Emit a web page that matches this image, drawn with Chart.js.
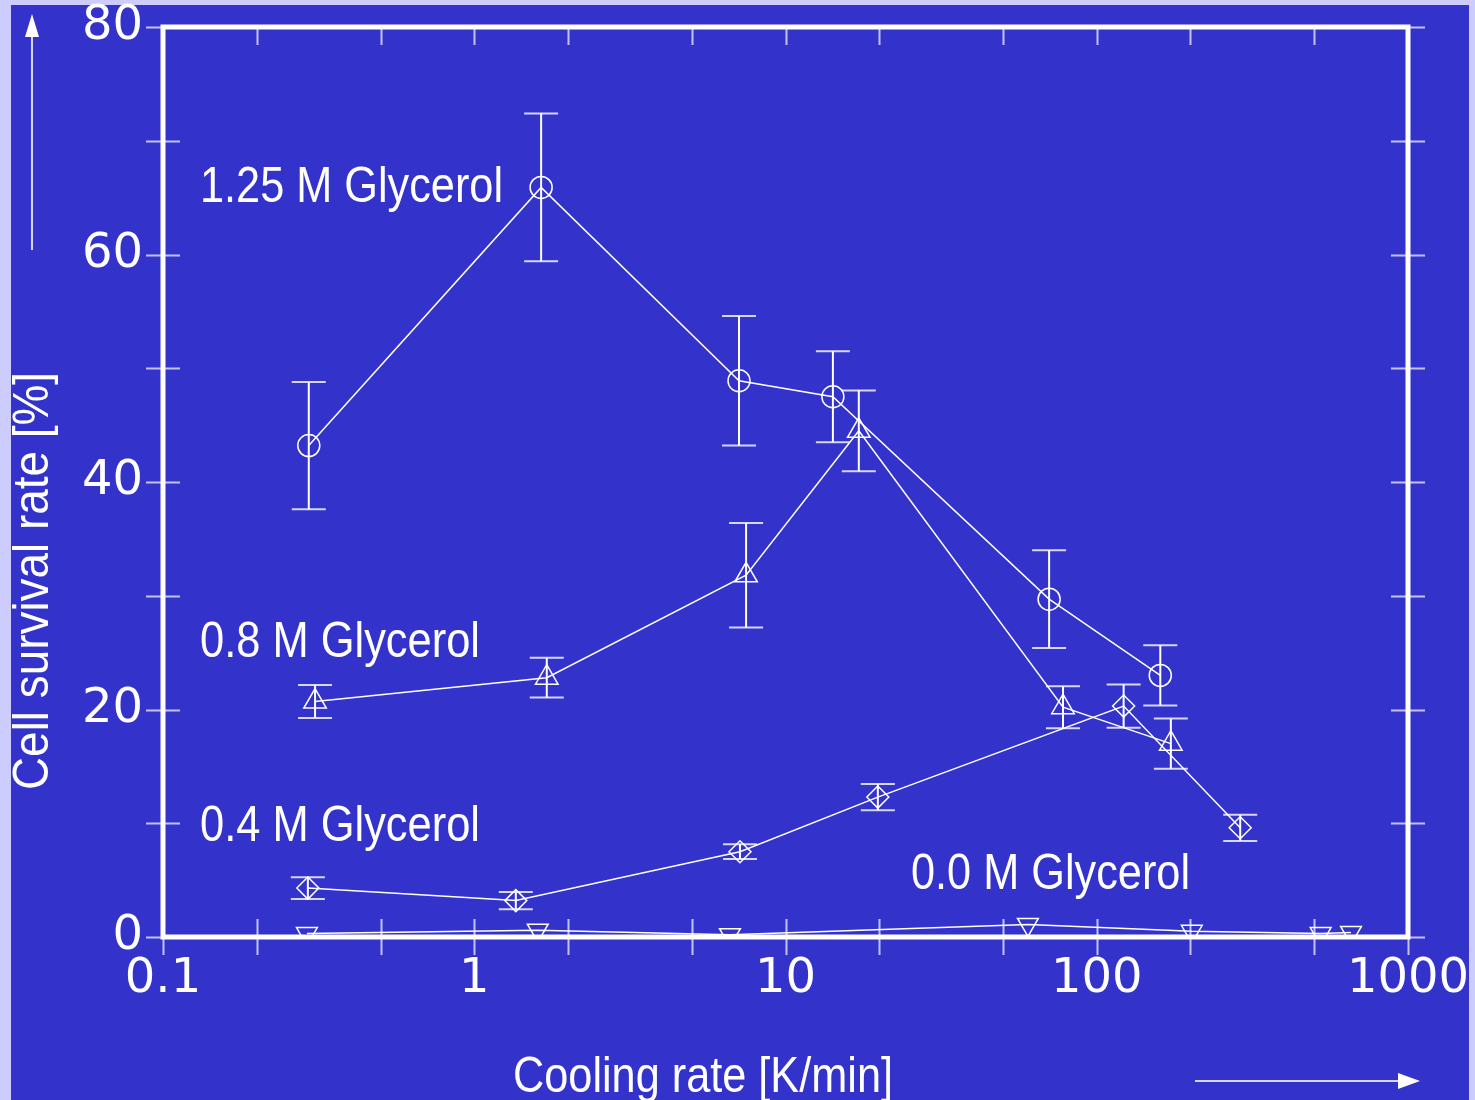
<!DOCTYPE html>
<html>
<head>
<meta charset="utf-8">
<script src="https://cdn.jsdelivr.net/npm/chart.js"></script>
<style>
  html, body { margin: 0; padding: 0; background: #ccccff; }
  canvas { display: block; }
</style>
</head>
<body>
<canvas id="chartSurvival" width="1475" height="1100"></canvas>
<script>
// tick values
const xTickValues = [0.1, 1, 10, 100, 1000];
const xMinorTicks = [0.2, 0.5, 2, 5, 20, 50, 200, 500];
const yTickValues = [0, 20, 40, 60, 80];
const yMinorTicks = [10, 30, 50, 70];

// 1.25 M glycerol
const rate125 = [0.294, 1.64, 7.09, 14.2, 70.3, 160];
const surv125 = [43.2, 65.9, 48.9, 47.5, 29.7, 23.0];
const err125 = [5.6, 6.5, 5.7, 4.0, 4.3, 2.65];

// 0.8 M glycerol
const rate08 = [0.308, 1.71, 7.47, 17.2, 77.9, 173];
const surv08 = [20.7, 22.8, 31.8, 44.5, 20.2, 17.0];
const err08 = [1.45, 1.75, 4.6, 3.55, 1.85, 2.2];

// 0.4 M glycerol
const rate04 = [0.292, 1.36, 7.14, 19.8, 122, 289];
const surv04 = [4.3, 3.2, 7.5, 12.3, 20.3, 9.6];
const err04 = [0.95, 0.75, 0.65, 1.15, 1.9, 1.15];

// 0.0 M glycerol
const rate00 = [0.29, 1.6, 6.63, 60.1, 202, 524, 656];
const surv00 = [0.3, 0.6, 0.2, 1.1, 0.5, 0.3, 0.4];

const seriesLabels = ['1.25 M Glycerol', '0.8 M Glycerol', '0.4 M Glycerol', '0.0 M Glycerol'];

function points(xs, ys) {
  return xs.map((x, i) => ({x: x, y: ys[i]}));
}

function drawText(ctx, text, x, y, width, rotate) {
  ctx.save();
  ctx.translate(x, y);
  if (rotate) ctx.rotate(-Math.PI / 2);
  ctx.font = '50px "Liberation Sans", Arial, sans-serif';
  ctx.textAlign = 'left';
  ctx.textBaseline = 'alphabetic';
  ctx.fillStyle = '#ffffff';
  const w = ctx.measureText(text).width;
  ctx.scale(width / w, 1);
  ctx.fillText(text, 0, 0);
  ctx.restore();
}

function noPadding(s) {
  s.paddingTop = 0;
  s.paddingBottom = 0;
  s.paddingLeft = 0;
  s.paddingRight = 0;
}

const decorPlugin = {
  id: 'decor',
  beforeDraw(chart) {
    const ctx = chart.ctx;
    ctx.save();
    ctx.fillStyle = '#ccccff';
    ctx.fillRect(0, 0, chart.width, chart.height);
    ctx.fillStyle = '#3333cc';
    ctx.fillRect(11, 5, 1458, 1095);
    ctx.restore();
  },
  afterDatasetsDraw(chart) {
    const ctx = chart.ctx;
    const xs = chart.scales.x, ys = chart.scales.y;
    // error bars
    chart.data.datasets.forEach(ds => {
      if (!ds.yErr) return;
      ds.data.forEach((p, i) => {
        const px = xs.getPixelForValue(p.x);
        const top = ys.getPixelForValue(p.y + ds.yErr[i]);
        const bot = ys.getPixelForValue(p.y - ds.yErr[i]);
        ctx.save();
        ctx.strokeStyle = '#ffffff';
        ctx.lineWidth = 2;
        ctx.beginPath();
        ctx.moveTo(px, top);
        ctx.lineTo(px, bot);
        ctx.stroke();
        ctx.strokeStyle = 'rgba(255,255,255,0.8)';
        ctx.beginPath();
        ctx.moveTo(px - 17, top);
        ctx.lineTo(px + 17, top);
        ctx.moveTo(px - 17, bot);
        ctx.lineTo(px + 17, bot);
        ctx.stroke();
        ctx.restore();
      });
    });

    const a = chart.chartArea;
    ctx.save();
    // ticks
    ctx.strokeStyle = 'rgba(255,255,255,0.7)';
    ctx.lineWidth = 2;
    ctx.beginPath();
    xTickValues.concat(xMinorTicks).forEach(v => {
      const px = Math.round(xs.getPixelForValue(v)) + 0.5;
      ctx.moveTo(px, a.bottom - 18);
      ctx.lineTo(px, a.bottom + 18);
      ctx.moveTo(px, a.top);
      ctx.lineTo(px, a.top + 18);
    });
    yTickValues.concat(yMinorTicks).forEach(v => {
      const py = Math.round(ys.getPixelForValue(v)) + 0.5;
      ctx.moveTo(a.left - 17, py);
      ctx.lineTo(a.left + 17, py);
      ctx.moveTo(a.right - 17, py);
      ctx.lineTo(a.right + 17, py);
    });
    ctx.stroke();

    // frame
    ctx.strokeStyle = '#ffffff';
    ctx.lineWidth = 5;
    ctx.strokeRect(a.left, a.top, a.right - a.left, a.bottom - a.top);
    ctx.restore();

    // series labels
    drawText(ctx, seriesLabels[0], 200, 202, 303);
    drawText(ctx, seriesLabels[1], 200, 657, 280);
    drawText(ctx, seriesLabels[2], 200, 841, 280);
    drawText(ctx, seriesLabels[3], 911, 889, 279);

    // axis titles
    drawText(ctx, 'Cooling rate [K/min]', 513, 1092, 380);
    drawText(ctx, 'Cell survival rate [%]', 48, 790, 418, true);

    // arrows
    ctx.save();
    ctx.strokeStyle = 'rgba(255,255,255,0.8)';
    ctx.fillStyle = '#ffffff';
    ctx.lineWidth = 2;
    ctx.beginPath();
    ctx.moveTo(32, 250);
    ctx.lineTo(32, 36);
    ctx.moveTo(1195, 1081);
    ctx.lineTo(1400, 1081);
    ctx.stroke();
    ctx.beginPath();
    ctx.moveTo(32, 14);
    ctx.lineTo(25, 37);
    ctx.lineTo(39, 37);
    ctx.closePath();
    ctx.moveTo(1420, 1081);
    ctx.lineTo(1398, 1073);
    ctx.lineTo(1398, 1089);
    ctx.closePath();
    ctx.fill();
    ctx.restore();
  }
};

const common = {
  showLine: true,
  borderColor: '#ffffff',
  borderWidth: 1.5,
  pointBorderColor: '#ffffff',
  pointBackgroundColor: 'rgba(0,0,0,0)',
  pointBorderWidth: 1.5,
  tension: 0
};

const data = {
  datasets: [
    Object.assign({}, common, {
      label: seriesLabels[0],
      data: points(rate125, surv125),
      yErr: err125,
      pointStyle: 'circle',
      pointRadius: 11
    }),
    Object.assign({}, common, {
      label: seriesLabels[1],
      data: points(rate08, surv08),
      yErr: err08,
      pointStyle: 'triangle',
      pointRadius: 13
    }),
    Object.assign({}, common, {
      label: seriesLabels[2],
      data: points(rate04, surv04),
      yErr: err04,
      pointStyle: 'rectRot',
      pointRadius: 11
    }),
    Object.assign({}, common, {
      label: seriesLabels[3],
      data: points(rate00, surv00),
      pointStyle: 'triangle',
      pointRotation: 180,
      pointRadius: 12
    })
  ]
};

const tickFont = {family: '"DejaVu Sans", Verdana, sans-serif', size: 48};

const options = {
  responsive: false,
  devicePixelRatio: 1,
  animation: false,
  layout: {
    padding: {left: 0, right: 67, top: 27, bottom: 0}
  },
  plugins: {
    legend: {display: false},
    tooltip: {enabled: false}
  },
  scales: {
    x: {
      type: 'logarithmic',
      min: 0.1,
      max: 1000,
      afterBuildTicks: s => { s.ticks = xTickValues.map(v => ({value: v})); },
      afterFit: s => { s.height = 163; noPadding(s); },
      grid: {display: false, drawTicks: false},
      border: {display: false},
      ticks: {
        color: '#ffffff',
        font: tickFont,
        padding: 14,
        maxRotation: 0,
        autoSkip: false,
        callback: v => String(v)
      }
    },
    y: {
      min: 0,
      max: 80,
      afterBuildTicks: s => { s.ticks = yTickValues.map(v => ({value: v})); },
      afterFit: s => { s.width = 163; noPadding(s); },
      grid: {display: false, drawTicks: false},
      border: {display: false},
      ticks: {
        color: '#ffffff',
        font: tickFont,
        padding: 20
      }
    }
  }
};

new Chart(document.getElementById('chartSurvival'), {
  type: 'scatter',
  data: data,
  options: options,
  plugins: [decorPlugin]
});
</script>
</body>
</html>
